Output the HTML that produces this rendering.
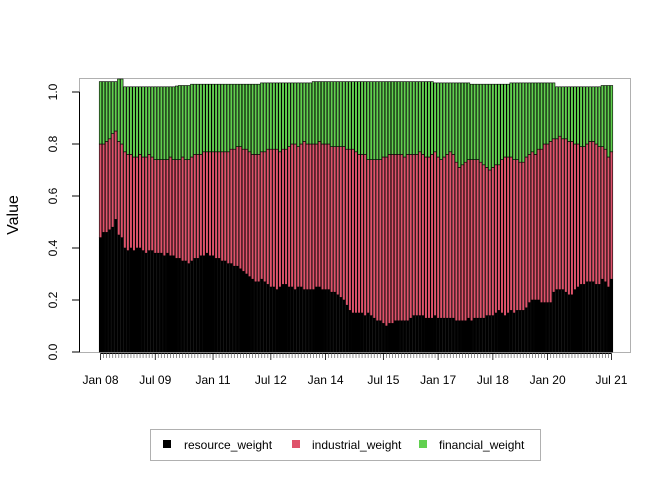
<!DOCTYPE html>
<html><head><meta charset="utf-8"><style>
body{margin:0;background:#fff}
svg{display:block;font-family:"Liberation Sans",Arial,sans-serif}
</style></head><body>
<svg id="chart" width="672" height="480" viewBox="0 0 672 480">
<rect x="79.5" y="78.5" width="551" height="274" fill="none" stroke="#b0b0b0"/>
<g id="bars"></g>
<g id="yaxis"></g>
<g id="xaxis"></g>
<text transform="translate(18,215) rotate(-90)" text-anchor="middle" font-size="16">Value</text>
<g>
<rect x="150.5" y="429.5" width="390" height="31" fill="#fff" stroke="#b0b0b0"/>
<g><rect x="163" y="440" width="8" height="8" fill="#000"/><text x="184" y="449" font-size="12">resource_weight</text></g>
<g><rect x="292" y="440" width="8" height="8" fill="#DF536B"/><text x="312" y="449" font-size="12">industrial_weight</text></g>
<g><rect x="419" y="440" width="8" height="8" fill="#61D04F"/><text x="439" y="449" font-size="12">financial_weight</text></g>
</g>
</svg>
<script>
const resource=[.44,.46,.46,.47,.48,.51,.45,.44,.40,.39,.40,.39,.40,.40,.39,.38,.39,.39,.38,.38,.38,.37,.38,.37,.37,.36,.36,.35,.35,.34,.35,.36,.36,.37,.37,.38,.37,.37,.36,.36,.35,.35,.34,.34,.33,.33,.32,.31,.30,.29,.28,.27,.27,.28,.27,.26,.25,.25,.24,.25,.26,.26,.25,.25,.24,.25,.25,.24,.24,.24,.24,.25,.25,.24,.24,.24,.23,.23,.22,.21,.20,.18,.16,.15,.15,.15,.15,.14,.15,.14,.13,.12,.12,.11,.10,.11,.11,.12,.12,.12,.12,.12,.13,.14,.14,.14,.14,.13,.13,.13,.14,.13,.13,.13,.13,.13,.13,.12,.12,.12,.12,.13,.12,.13,.13,.13,.13,.14,.14,.14,.15,.16,.15,.14,.15,.16,.15,.16,.16,.16,.17,.19,.20,.20,.20,.19,.19,.19,.19,.23,.24,.24,.24,.23,.22,.22,.24,.25,.26,.26,.27,.27,.27,.26,.26,.28,.27,.25,.28];
const cumIndustrial=[.80,.80,.81,.82,.84,.85,.81,.80,.77,.76,.76,.75,.75,.76,.75,.75,.76,.75,.74,.74,.74,.74,.74,.75,.74,.74,.74,.75,.74,.74,.75,.76,.76,.76,.77,.77,.77,.77,.77,.77,.77,.77,.77,.78,.78,.79,.79,.78,.78,.77,.76,.76,.76,.77,.77,.78,.78,.78,.78,.77,.78,.78,.79,.80,.80,.79,.80,.81,.80,.80,.80,.80,.81,.80,.80,.80,.79,.79,.79,.79,.79,.78,.78,.78,.77,.76,.76,.76,.74,.74,.74,.74,.74,.75,.75,.76,.76,.76,.76,.76,.75,.76,.76,.76,.76,.77,.76,.75,.75,.76,.77,.75,.74,.75,.76,.77,.76,.73,.71,.72,.73,.74,.74,.74,.74,.73,.72,.71,.70,.71,.72,.72,.74,.75,.75,.75,.74,.74,.73,.73,.75,.76,.77,.76,.78,.78,.80,.80,.81,.82,.82,.83,.82,.82,.81,.81,.80,.80,.79,.79,.80,.81,.81,.80,.79,.79,.78,.75,.77];
const total=[1.04,1.04,1.04,1.04,1.04,1.04,1.05,1.05,1.02,1.02,1.02,1.02,1.02,1.02,1.02,1.02,1.02,1.02,1.02,1.02,1.02,1.02,1.02,1.02,1.02,1.023,1.025,1.025,1.025,1.025,1.03,1.03,1.03,1.03,1.03,1.03,1.03,1.03,1.03,1.03,1.03,1.03,1.03,1.03,1.03,1.03,1.03,1.03,1.03,1.03,1.03,1.03,1.03,1.035,1.035,1.035,1.035,1.035,1.035,1.035,1.035,1.035,1.035,1.035,1.035,1.035,1.035,1.035,1.035,1.035,1.04,1.04,1.04,1.04,1.04,1.04,1.04,1.04,1.04,1.04,1.04,1.04,1.04,1.04,1.04,1.04,1.04,1.04,1.04,1.04,1.04,1.04,1.04,1.04,1.04,1.04,1.04,1.04,1.04,1.04,1.04,1.04,1.04,1.04,1.04,1.04,1.04,1.04,1.04,1.04,1.035,1.035,1.035,1.035,1.035,1.035,1.035,1.035,1.035,1.035,1.035,1.035,1.03,1.03,1.03,1.03,1.03,1.03,1.03,1.03,1.03,1.03,1.03,1.03,1.03,1.035,1.035,1.035,1.035,1.035,1.035,1.035,1.035,1.035,1.035,1.035,1.035,1.035,1.035,1.035,1.02,1.02,1.02,1.02,1.02,1.02,1.02,1.02,1.02,1.02,1.02,1.02,1.02,1.02,1.02,1.025,1.025,1.025,1.025];
const xLabels=["Jan 08","Jul 09","Jan 11","Jul 12","Jan 14","Jul 15","Jan 17","Jul 18","Jan 20","Jul 21"];
const xLabelIndex=[0,18,37,56,74,93,111,129,147,168];
const yTicks=[0,0.2,0.4,0.6,0.8,1.0];
const yTickLabels=["0.0","0.2","0.4","0.6","0.8","1.0"];

const NS="http://www.w3.org/2000/svg";
const x0=99,x1=613,yBase=352,yScale=260;
const n=resource.length, bw=(x1-x0)/n;
const X=i=>x0+i*bw;
const Y=v=>yBase-v*yScale;
function mk(tag,attrs,parent){const e=document.createElementNS(NS,tag);for(const k in attrs)e.setAttribute(k,attrs[k]);parent.appendChild(e);return e;}
const bars=document.getElementById('bars');
for(let i=0;i<n;i++){
  const segs=[[0,resource[i],'#000','resource'],[resource[i],cumIndustrial[i],'#DF536B','industrial'],[cumIndustrial[i],total[i],'#61D04F','financial']];
  for(const s of segs){
    const r=mk('rect',{x:X(i)+0.25,y:Y(s[1]),width:bw-0.5,height:Y(s[0])-Y(s[1]),fill:s[2],stroke:'#000','stroke-width':0.6},bars);
    
    
  }
}
const ya=document.getElementById('yaxis');
mk('line',{x1:79.5,x2:79.5,y1:Y(0),y2:Y(1),stroke:'#000'},ya);
yTicks.forEach((v,k)=>{
  mk('line',{x1:72,x2:79.5,y1:Y(v),y2:Y(v),stroke:'#000'},ya);
  const t=mk('text',{transform:`translate(57,${Y(v)}) rotate(-90)`,'text-anchor':'middle','font-size':12},ya);
  t.textContent=yTickLabels[k];
  
  
});
const xa=document.getElementById('xaxis');
mk('line',{x1:X(0)+bw/2,x2:X(n-1)+bw/2,y1:353.5,y2:353.5,stroke:'#000'},xa);
for(let i=0;i<n;i++){
  const major=xLabelIndex.includes(i);
  mk('line',{x1:X(i)+bw/2,x2:X(i)+bw/2,y1:353.5,y2:major?360:358,stroke:major?'#000':'#777','stroke-width':0.8},xa);
}
xLabels.forEach((l,k)=>{
  const t=mk('text',{x:X(xLabelIndex[k])+bw/2,y:384,'text-anchor':'middle','font-size':12},xa);
  t.textContent=l;
  
  
});
</script>
</body></html>
